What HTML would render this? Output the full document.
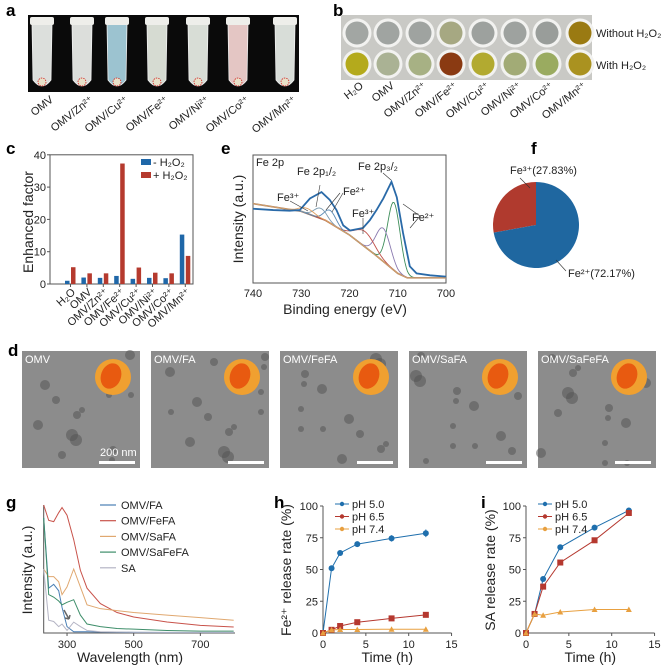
<!DOCTYPE html>
<html><head><meta charset="utf-8"><style>
html,body{margin:0;padding:0;background:#fff;}
svg{display:block;font-family:"Liberation Sans",Arial,sans-serif;}
.pl{font-weight:bold;font-size:17px;}
.tk{font-size:11px;fill:#222;}
.al{font-size:14px;fill:#222;}
.lg{font-size:11px;fill:#222;}
</style></head><body>
<svg id="fig" width="669" height="671" viewBox="0 0 669 671" xmlns="http://www.w3.org/2000/svg">
<text class="pl" x="6" y="16">a</text>
<text class="pl" x="333" y="16">b</text>
<text class="pl" x="6" y="154">c</text>
<text class="pl" x="221" y="154">e</text>
<text class="pl" x="531" y="154">f</text>
<text class="pl" x="8" y="356">d</text>
<text class="pl" x="6" y="508">g</text>
<text class="pl" x="274" y="508">h</text>
<text class="pl" x="481" y="508">i</text>
<g id="pa"></g>
<g id="pb"></g>
<g id="pc"></g>
<g id="pe"></g>
<g id="pf"></g>
<g id="pd"></g>
<g id="pg"></g>
<g id="ph"></g>
<g id="pi"></g>
</svg>
<script>
// ---- data ----
const tubeLabels=["OMV","OMV/Zn²⁺","OMV/Cu²⁺","OMV/Fe²⁺","OMV/Ni²⁺","OMV/Co²⁺","OMV/Mn²⁺"];
const tubeColors=["#dcdfdc","#dcdedb","#9cc3d0","#d6dbd2","#d8ddd6","#e4c6c4","#d8ddd8"];
const wellLabels=["H₂O","OMV","OMV/Zn²⁺","OMV/Fe²⁺","OMV/Cu²⁺","OMV/Ni²⁺","OMV/Co²⁺","OMV/Mn²⁺"];
const wellTop=["#a2a6a3","#a0a4a1","#9fa3a0","#a6a882","#9da19e","#9ea29f","#999d9a","#9a7a12"];
const wellBot=["#b4aa1c","#aab294","#a7b184","#8a3a12","#b2aa30","#a2ab76","#9aab60","#aa9220"];
const cCats=["H₂O","OMV","OMV/Zn²⁺","OMV/Fe²⁺","OMV/Cu²⁺","OMV/Ni²⁺","OMV/Co²⁺","OMV/Mn²⁺"];
const cMinus=[1.0,2.0,1.9,2.5,1.6,1.9,1.8,15.3];
const cPlus=[5.2,3.3,3.3,37.3,5.1,3.5,3.3,8.7];
const cTicks=[0,10,20,30,40];
const eEv=[740,735.8,732.4,730.3,728.2,725.8,724.1,722.7,721.3,719.9,717.2,715.8,714.4,713.0,711.3,710.2,708.9,707.5,706.1,703.3,700];
const eInt=[0.58,0.57,0.565,0.57,0.66,0.71,0.65,0.57,0.45,0.41,0.43,0.49,0.57,0.66,0.79,0.67,0.39,0.13,0.075,0.06,0.05];
const eBgEv=[740,730,725,720,715,710,708,700];
const eBgInt=[0.62,0.56,0.49,0.375,0.23,0.075,0.04,0.04];
const peakCenters=[710.8,713.0,716.8,724.0,726.0,728.8];
const peakHeights=[0.53,0.26,0.12,0.10,0.08,0.04];
const peakWidths=[1.3,1.5,2.0,1.2,1.3,1.5];
const peakColors=["#3e8e5a","#8a7ab0","#c0504a","#5a8ab5","#7a9ab0","#e0a060"];
const eTicks=[740,730,720,710,700];
const pieValues=[27.83,72.17];
const pieColors=["#b03a2e","#1f67a0"];
const gWl=[230,245,260,275,285,300,320,340,360,400,450,500,600,700,800];
const gFA=[0.9,0.35,0.38,0.33,0.2,0.05,0.01,0.01,0.01,0.008,0.006,0.005,0.004,0.004,0.004];
const gFeFA=[1.0,0.88,0.87,0.94,0.98,0.92,0.73,0.49,0.35,0.23,0.16,0.125,0.086,0.06,0.047];
const gSaFA=[0.5,0.44,0.44,0.40,0.30,0.36,0.50,0.36,0.22,0.19,0.175,0.16,0.14,0.12,0.10];
const gSaFeFA=[0.9,0.30,0.28,0.25,0.22,0.24,0.26,0.14,0.07,0.05,0.035,0.03,0.02,0.015,0.015];
const gSA=[0.5,0.10,0.09,0.05,0.07,0.02,0.085,0.05,0.02,0.01,0.008,0.006,0.005,0.005,0.005];
const gNames=["OMV/FA","OMV/FeFA","OMV/SaFA","OMV/SaFeFA","SA"];
const gTicks=[300,500,700];
const tTimes=[0,1,2,4,8,12];
const hPH5=[0,51,63,70,74.5,78.5];
const hPH65=[0,2.5,5.5,8.5,11.5,14.3];
const hPH74=[0,2.5,2.8,2.8,3,3];
const hErr=[1,1.5,1.5,2,2.5,3];
const iPH5=[0,15,42.5,67.5,83,96.5];
const iPH65=[0,15,36.5,55.5,73,94.5];
const iPH74=[0,15,14,16.5,18.5,18.5];
const iErr=[1,1,1.5,1,1,2];
const relTicksY=[0,25,50,75,100];
const relTicksX=[0,5,10,15];
const temNames=["OMV","OMV/FA","OMV/FeFA","OMV/SaFA","OMV/SaFeFA"];

const NS="http://www.w3.org/2000/svg";
function mk(tag,attrs,parent){const e=document.createElementNS(NS,tag);for(const k in attrs)e.setAttribute(k,attrs[k]);parent.appendChild(e);return e;}
function tx(parent,x,y,s,cls,extra){const e=mk('text',Object.assign({x:x,y:y,class:cls},extra||{}),parent);e.textContent=s;return e;}
let el;

// ---- panel a ----
const pa=document.getElementById('pa');
el=mk('rect',{x:28,y:15,width:271,height:77,fill:'#0a0a0a'},pa);


const tubeX=[42,82,117,157,198,238,285];
tubeColors.forEach((c,i)=>{
  const cx=tubeX[i];
  el=mk('path',{d:`M${cx-10} 24 L${cx+10} 24 L${cx+9} 80 Q${cx} 92 ${cx-9} 80 Z`,fill:c,stroke:'#f0f0f0','stroke-width':0.8},pa);
  
  
  el=mk('rect',{x:cx-12,y:17,width:24,height:8,rx:2,fill:'#eeeeea'},pa);
  
  
  el=mk('circle',{cx:cx,cy:82,r:4,fill:'#e8e0c8',stroke:'#d02020','stroke-width':0.8,'stroke-dasharray':'1.5 1'},pa);
  
  
  el=tx(pa,cx+12,101,tubeLabels[i],'tk',{'text-anchor':'end',transform:`rotate(-38 ${cx+12} 101)`});
  
  
});

// ---- panel b ----
const pb=document.getElementById('pb');
el=mk('rect',{x:341,y:15,width:251,height:65,fill:'#c9c9c5'},pb);


const wellX=[357,388,420,451,483,515,547,580];
wellLabels.forEach((l,i)=>{
  [[33,wellTop[i]],[64,wellBot[i]]].forEach(([cy,c])=>{
    el=mk('circle',{cx:wellX[i],cy:cy,r:14.5,fill:'#f2f2f0'},pb);
    
    
    el=mk('circle',{cx:wellX[i],cy:cy,r:11.5,fill:c},pb);
    
    
  });
  el=tx(pb,wellX[i]+7,87,l,'tk',{'text-anchor':'end',transform:`rotate(-38 ${wellX[i]+7} 87)`});
  
  
});
el=tx(pb,596,37,'Without H₂O₂','tk');


el=tx(pb,596,69,'With H₂O₂','tk');



// ---- panel c ----
const pc=document.getElementById('pc');
const xc=i=>70+16.4*i, yc=v=>284-v*3.23;
el=mk('rect',{x:50,y:yc(40),width:143,height:yc(0)-yc(40),fill:'none',stroke:'#555','stroke-width':1},pc);


cTicks.forEach(t=>{
  el=tx(pc,46,yc(t)+4,String(t),'tk',{'text-anchor':'end'});
  
  
  mk('line',{x1:47,x2:50,y1:yc(t),y2:yc(t),stroke:'#555'},pc);
});
cCats.forEach((c,i)=>{
  el=mk('rect',{x:xc(i)-5,y:yc(cMinus[i]),width:4.5,height:yc(0)-yc(cMinus[i]),fill:'#1f67a8'},pc);
  
  
  el=mk('rect',{x:xc(i)+1,y:yc(cPlus[i]),width:4.5,height:yc(0)-yc(cPlus[i]),fill:'#b53a2e'},pc);
  
  
  mk('line',{x1:xc(i)+0.5,x2:xc(i)+0.5,y1:284,y2:287,stroke:'#555'},pc);
  el=tx(pc,xc(i)+6,293,c,'tk',{'text-anchor':'end',transform:`rotate(-42 ${xc(i)+6} 293)`});
  
  
});
el=tx(pc,33,222,'Enhanced factor','al',{'text-anchor':'middle',transform:'rotate(-90 33 222)'});


[['- H₂O₂','#1f67a8',163],['+ H₂O₂','#b53a2e',176]].forEach(([t,c,y])=>{
  el=mk('rect',{x:141,y:y-4,width:10,height:6,fill:c},pc);
  
  
  el=tx(pc,153,y+3,t,'lg');
  
  
});

// ---- panel e ----
const pe=document.getElementById('pe');
const xe=v=>253+(740-v)*4.825, ye=v=>283-v*128;
el=mk('rect',{x:253,y:155,width:193,height:128,fill:'none',stroke:'#555'},pe);


eTicks.forEach(t=>{
  el=tx(pe,xe(t),297,String(t),'tk',{'text-anchor':'middle'});
  
  
});
function bgAt(ev){for(let k=0;k<eBgEv.length-1;k++){if(ev<=eBgEv[k]&&ev>=eBgEv[k+1]){const f=(eBgEv[k]-ev)/(eBgEv[k]-eBgEv[k+1]);return eBgInt[k]+f*(eBgInt[k+1]-eBgInt[k]);}}return eBgInt[eBgInt.length-1];}
el=mk('polyline',{points:eBgEv.map((v,k)=>xe(v)+','+ye(eBgInt[k])).join(' '),fill:'none',stroke:'#b87840','stroke-width':1.6},pe);


peakCenters.forEach((c,p)=>{
  const pts=[];
  for(let ev=740;ev>=700;ev-=0.25){pts.push(xe(ev)+','+ye(bgAt(ev)+peakHeights[p]*Math.exp(-Math.pow((ev-c)/peakWidths[p],2)/2)));}
  el=mk('polyline',{points:pts.join(' '),fill:'none',stroke:peakColors[p],'stroke-width':0.9},pe);
  
  
});
el=mk('polyline',{points:eEv.map((v,k)=>xe(v)+','+ye(eInt[k])).join(' '),fill:'none',stroke:'#2a6aa8','stroke-width':1.8},pe);


[['Fe 2p',256,166],['Fe 2p₁/₂',297,175],['Fe 2p₃/₂',358,170],['Fe³⁺',277,201],['Fe²⁺',343,195],['Fe³⁺',352,217],['Fe²⁺',412,221]].forEach(([t,x,y])=>{
  el=tx(pe,x,y,t,'lg');
  
  
});
[[320,185,316,207],[340,193,326,210],[343,193,332,212],[420,216,403,204],[420,216,410,228],[363,218,363,234],[290,201,308,211],[383,173,391,180]].forEach(a=>{mk('line',{x1:a[0],y1:a[1],x2:a[2],y2:a[3],stroke:'#333','stroke-width':0.6},pe);});
el=tx(pe,345,314,'Binding energy (eV)','al',{'text-anchor':'middle'});


el=tx(pe,243,219,'Intensity (a.u.)','al',{'text-anchor':'middle',transform:'rotate(-90 243 219)'});



// ---- panel f ----
const pf=document.getElementById('pf');
const pcx=536,pcy=225,pr=43;
let ang=0;const tot=pieValues.reduce((a,b)=>a+b,0);
pieValues.forEach((v,k)=>{
  const a0=ang,a1=ang-v/tot*2*Math.PI;
  const x0=pcx+pr*Math.sin(a0),y0=pcy-pr*Math.cos(a0),x1=pcx+pr*Math.sin(a1),y1=pcy-pr*Math.cos(a1);
  el=mk('path',{d:`M${pcx} ${pcy} L${x0} ${y0} A${pr} ${pr} 0 ${v/tot>0.5?1:0} 0 ${x1} ${y1} Z`,fill:pieColors[k]},pf);
  
  
  ang=a1;
});
el=tx(pf,510,174,'Fe³⁺(27.83%)','lg');


el=tx(pf,568,277,'Fe²⁺(72.17%)','lg');


mk('line',{x1:520,y1:178,x2:530,y2:188,stroke:'#333','stroke-width':0.6},pf);
mk('line',{x1:566,y1:271,x2:556,y2:260,stroke:'#333','stroke-width':0.6},pf);

// ---- panel d ----
const pd=document.getElementById('pd');
const dots=[[20,30,5],[45,60,4],[70,20,3],[30,85,6],[60,95,4],[90,70,5],[15,55,3],[100,100,4],[50,40,3],[80,45,4],[35,110,5],[10,105,3],[75,80,6],[105,40,3]];
temNames.forEach((n,k)=>{
  const x0=22+129*k,y0=351;
  el=mk('rect',{x:x0,y:y0,width:118,height:117,fill:'#8c8c8c'},pd);
  
  
  dots.forEach(([dx,dy,r],j)=>{mk('circle',{cx:x0+((dx+k*23+j*7)%112)+3,cy:y0+((dy+k*17)%110)+4,r:r,fill:'#555','fill-opacity':0.55},pd);});
  el=tx(pd,x0+3,y0+12,n,'lg',{style:'fill:#fff'});
  
  
  el=mk('circle',{cx:x0+91,cy:y0+26,r:18,fill:'#f0a030'},pd);
  
  
  mk('ellipse',{cx:x0+89,cy:y0+25,rx:10,ry:13,fill:'#e85a10',transform:`rotate(20 ${x0+89} ${y0+25})`},pd);
  el=mk('rect',{x:x0+77,y:y0+110,width:36,height:3,fill:'#fff'},pd);
  
  
});
el=tx(pd,22+78,351+105,'200 nm','lg',{style:'fill:#fff'});



// ---- panel g ----
const pg=document.getElementById('pg');
const xg=v=>43.7+(v-230)*0.3333, yg=v=>633-v*128;
mk('polyline',{points:`43.7,505 43.7,633 235,633`,fill:'none',stroke:'#555'},pg);
gTicks.forEach(t=>{
  mk('line',{x1:xg(t),x2:xg(t),y1:633,y2:636,stroke:'#555'},pg);
  el=tx(pg,xg(t),648,String(t),'tk',{'text-anchor':'middle'});
  
  
});
const gSeries=[gFA,gFeFA,gSaFA,gSaFeFA,gSA];
const gCols=["#4a7fb5","#c8524a","#e0a870","#3e8e6a","#b4b4c4"];
gSeries.forEach((s,k)=>{
  el=mk('polyline',{points:gWl.map((w,j)=>xg(w)+','+yg(s[j])).join(' '),fill:'none',stroke:gCols[k],'stroke-width':1},pg);
  
  
  const ly=505+15.7*k;
  mk('line',{x1:100,x2:116,y1:ly,y2:ly,stroke:gCols[k],'stroke-width':1.2},pg);
  el=tx(pg,121,ly+4,gNames[k],'lg');
  
  
});
mk('path',{d:'M64 610 L69 619 M69 619 l-4 -1 M69 619 l1 -4',stroke:'#666',fill:'none','stroke-width':1.5},pg);
el=tx(pg,130,662,'Wavelength (nm)','al',{'text-anchor':'middle'});


el=tx(pg,32,570,'Intensity (a.u.)','al',{'text-anchor':'middle',transform:'rotate(-90 32 570)'});



// ---- panels h, i ----
function release(gid,x0,series,err,ylabel,ylx){
  const g=document.getElementById(gid);
  const xs=t=>x0+t*8.57, ys=v=>633-v*1.27;
  mk('polyline',{points:`${x0},${ys(100)} ${x0},633 ${xs(15)},633`,fill:'none',stroke:'#555'},g);
  relTicksY.forEach(t=>{
    mk('line',{x1:x0-3,x2:x0,y1:ys(t),y2:ys(t),stroke:'#555'},g);
    el=tx(g,x0-5,ys(t)+4,String(t),'tk',{'text-anchor':'end'});
    
    
  });
  relTicksX.forEach(t=>{
    mk('line',{x1:xs(t),x2:xs(t),y1:633,y2:636,stroke:'#555'},g);
    el=tx(g,xs(t),648,String(t),'tk',{'text-anchor':'middle'});
    
    
  });
  const cols=["#1f6fad","#b5382f","#e8a040"],names=["pH 5.0","pH 6.5","pH 7.4"];
  series.forEach((s,k)=>{
    el=mk('polyline',{points:tTimes.map((t,j)=>xs(t)+','+ys(s[j])).join(' '),fill:'none',stroke:cols[k],'stroke-width':1},g);
    
    
    tTimes.forEach((t,j)=>{
      if(k===0){mk('line',{x1:xs(t),x2:xs(t),y1:ys(s[j]+err[j]),y2:ys(s[j]-err[j]),stroke:cols[k]},g);}
      if(k===0) el=mk('circle',{cx:xs(t),cy:ys(s[j]),r:3,fill:cols[k]},g);
      else if(k===1) el=mk('rect',{x:xs(t)-3,y:ys(s[j])-3,width:6,height:6,fill:cols[k]},g);
      else el=mk('path',{d:`M${xs(t)-3} ${ys(s[j])+2.5} L${xs(t)+3} ${ys(s[j])+2.5} L${xs(t)} ${ys(s[j])-3} Z`,fill:cols[k]},g);
      
      
    });
    const ly=504+12.5*k;
    mk('line',{x1:x0+12,x2:x0+26,y1:ly,y2:ly,stroke:cols[k]},g);
    mk('circle',{cx:x0+19,cy:ly,r:2.2,fill:cols[k]},g);
    el=tx(g,x0+29,ly+4,names[k],'lg');
    
    
  });
  el=tx(g,xs(7.5),662,'Time (h)','al',{'text-anchor':'middle'});
  
  
  el=tx(g,ylx,570,ylabel,'al',{'text-anchor':'middle',transform:`rotate(-90 ${ylx} 570)`});
  
  
}
release('ph',323,[hPH5,hPH65,hPH74],hErr,'Fe²⁺ release rate (%)',291);
release('pi',526,[iPH5,iPH65,iPH74],iErr,'SA release rate (%)',495);
</script>
</body></html>
